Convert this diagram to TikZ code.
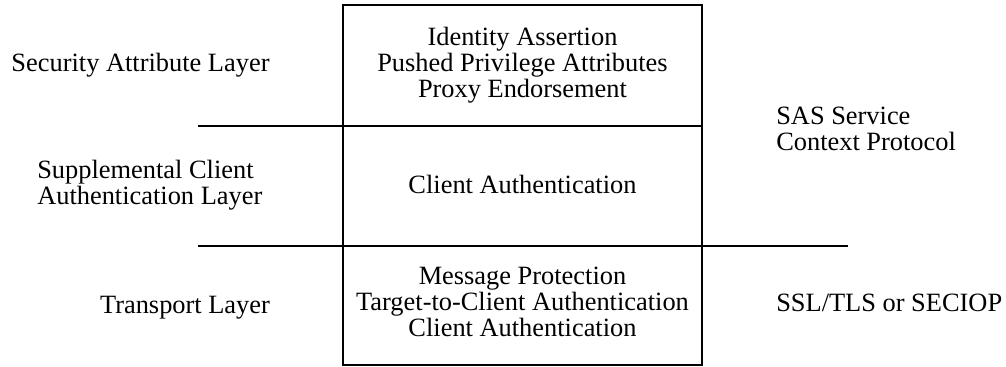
\documentclass[tikz,border=0pt]{standalone}
\usepackage{fontspec}
\setmainfont{Liberation Serif}
\usetikzlibrary{positioning, calc}

\begin{document}
\begin{tikzpicture}[x=0.75pt, y=0.75pt,
    layer/.style={font=\fontsize{19.8}{19.5}\selectfont, align=center, inner sep=0pt},
    side/.style={font=\fontsize{19.8}{19.5}\selectfont, align=left, inner sep=0pt},
    rule/.style={line width=1.5pt}]
  \useasboundingbox (0,0) rectangle (1006,367);
  % central box
  \coordinate (boxtl) at (343,362);
  \coordinate (boxbr) at (702,2);
  \draw[rule] (boxtl) rectangle (boxbr);
  % separators
  \coordinate (sepa) at (198,241);
  \coordinate (sepb) at (198,121);
  \draw[rule] (sepa) -- (sepa -| boxbr);
  \draw[rule] (sepb) -- (848,121);
  % box contents
  \node[layer, anchor=north] (attr) at (522.5,340) {Identity Assertion\\Pushed Privilege Attributes\\Proxy Endorsement};
  \node[layer, anchor=base] (auth) at (522.5,173) {Client Authentication};
  \node[layer, anchor=north] (trans) at (522.5,100) {Message Protection\\Target-to-Client Authentication\\Client Authentication};
  % left labels
  \node[layer, anchor=base] (seclayer) at (140.5,295) {Security Attribute Layer};
  \node[side, anchor=north west] (suplayer) at (37,207) {Supplemental Client\\Authentication Layer};
  \node[layer, anchor=base] (translayer) at (185,53) {Transport Layer};
  % right labels
  \node[side, anchor=north west] (sas) at (776,260) {SAS Service\\Context Protocol};
  \node[side, anchor=base west] (ssl) at (776,55) {SSL/TLS or SECIOP};
\end{tikzpicture}
\end{document}
